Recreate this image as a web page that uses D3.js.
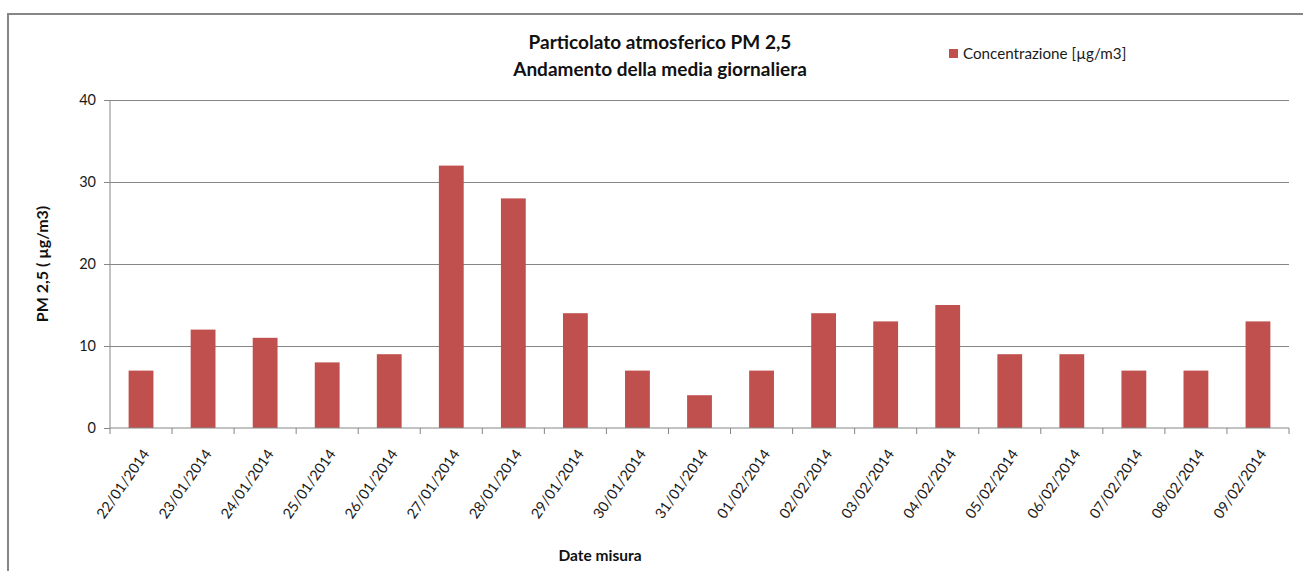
<!DOCTYPE html>
<html><head><meta charset="utf-8">
<script src="https://cdn.jsdelivr.net/npm/d3@7"></script>
<style>body{margin:0;background:#fff}svg{display:block;font-family:Lato,"Open Sans",sans-serif}</style>
</head><body>
<svg id="c" width="1303" height="571"></svg>
<script>
const categories = ["22/01/2014","23/01/2014","24/01/2014","25/01/2014","26/01/2014","27/01/2014","28/01/2014","29/01/2014","30/01/2014","31/01/2014","01/02/2014","02/02/2014","03/02/2014","04/02/2014","05/02/2014","06/02/2014","07/02/2014","08/02/2014","09/02/2014"];
const values = [7,12,11,8,9,32,28,14,7,4,7,14,13,15,9,9,7,7,13];
const yTicks = [0,10,20,30,40];
const titleLines = ["Particolato  atmosferico PM 2,5","Andamento della media giornaliera"];
const seriesName = "Concentrazione [µg/m3]";
const yTitle = "PM 2,5 ( µg/m3)";
const xTitle = "Date misura";

const svg = d3.select("#c");
const grey = "#868686";
const barColor = "#C0504D";
const pLeft = 110, pRight = 1289, pTop = 100, pBottom = 428;

// frame
svg.append("path").attr("d","M8,571 V14 H1303").attr("fill","none").attr("stroke",grey).attr("stroke-width",2);

const xb = d3.scaleBand().domain(categories).range([pLeft,pRight]);
const y = d3.scaleLinear().domain([0,40]).range([pBottom,pTop]);

// gridlines
svg.append("g").selectAll("line").data(yTicks.filter(d=>d>0)).join("line")
  .attr("x1",pLeft).attr("x2",pRight).attr("y1",d=>y(d)).attr("y2",d=>y(d))
  .attr("stroke",grey).attr("stroke-width",1).attr("shape-rendering","crispEdges");

// bars
svg.append("g").selectAll("rect").data(values).join("rect")
  .attr("x",(d,i)=>xb(categories[i]) + xb.bandwidth()*0.3)
  .attr("width",xb.bandwidth()*0.4)
  .attr("y",d=>y(d)).attr("height",d=>y(0)-y(d))
  .attr("fill",barColor);

// y axis
const yAxis = svg.append("g").attr("transform",`translate(${pLeft},0)`)
  .call(d3.axisLeft(y).tickValues(yTicks).tickSize(6).tickPadding(8));
yAxis.select(".domain").attr("stroke",grey).attr("d",`M0,${pBottom}V${pTop}`);
yAxis.selectAll(".tick line").attr("stroke",grey);
yAxis.selectAll(".tick text").attr("font-family","Lato").attr("font-size",14.5).attr("fill","#1a1a1a");

// x axis
const xAxis = svg.append("g").attr("transform",`translate(0,${pBottom})`)
  .call(d3.axisBottom(xb).tickSize(0).tickFormat(""));
xAxis.select(".domain").attr("stroke",grey).attr("d",`M${pLeft},0H${pRight}`);
const bounds = [...categories.map(c=>xb(c)), pRight];
xAxis.append("g").selectAll("line").data(bounds).join("line")
  .attr("x1",d=>d).attr("x2",d=>d).attr("y1",0).attr("y2",6).attr("stroke",grey);
svg.append("g").selectAll("text").data(categories).join("text")
  .attr("transform",c=>`translate(${xb(c)+xb.bandwidth()/2+5},${pBottom+23}) rotate(-55)`)
  .attr("text-anchor","end").attr("dy","0.35em")
  .attr("font-size",14.5).attr("fill","#1a1a1a").text(c=>c);

// titles
svg.append("text").attr("x",660).attr("text-anchor","middle").attr("font-weight","bold")
  .attr("font-size",19).attr("fill","#111")
  .selectAll("tspan").data(titleLines).join("tspan")
  .attr("x",660).attr("y",(d,i)=>49+i*27).text(d=>d);

// legend
svg.append("rect").attr("x",949).attr("y",49).attr("width",9).attr("height",9).attr("fill",barColor);
svg.append("text").attr("x",963).attr("y",59).attr("font-size",15.2).attr("fill","#1a1a1a").text(seriesName);

// axis titles
svg.append("text").attr("transform","translate(48,264) rotate(-90)").attr("text-anchor","middle")
  .attr("font-weight","bold").attr("font-size",16).attr("fill","#111").text(yTitle);
svg.append("text").attr("x",600).attr("y",561).attr("text-anchor","middle")
  .attr("font-weight","bold").attr("font-size",15.5).attr("fill","#111").text(xTitle);
</script>
</body></html>
